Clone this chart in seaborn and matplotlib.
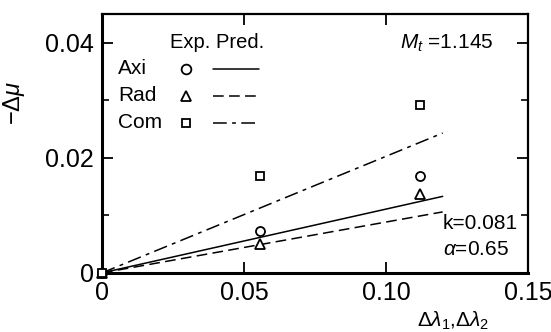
import numpy as np
import pandas as pd
import seaborn as sns
import matplotlib
matplotlib.use("Agg")
import matplotlib.pyplot as plt
from matplotlib.lines import Line2D
from matplotlib.ticker import MultipleLocator, FixedLocator

# Experimental points (Δλ, -Δμ)
exp_x = [0.0, 0.0555, 0.1119]
axi_exp = [0.0, 0.0073, 0.0169]
rad_exp = [0.0, 0.0050, 0.0137]
com_exp = [0.0, 0.0169, 0.0292]

# Predicted lines (start and end)
pred_x = [0.0, 0.12]
axi_pred = [0.0, 0.0133]
rad_pred = [0.0, 0.0106]
com_pred = [0.0, 0.0243]

series = ["Axi", "Rad", "Com"]
x_ticks = [0, 0.05, 0.10, 0.15]
x_tick_labels = ["0", "0.05", "0.10", "0.15"]
y_ticks = [0, 0.02, 0.04]
y_tick_labels = ["0", "0.02", "0.04"]

sns.set_theme(style="ticks")
plt.rcParams["font.family"] = ["Liberation Sans", "DejaVu Sans"]
plt.rcParams["mathtext.fontset"] = "custom"
plt.rcParams["mathtext.rm"] = "Liberation Sans"
plt.rcParams["mathtext.it"] = "Liberation Sans:italic"
plt.rcParams["mathtext.bf"] = "Liberation Sans:bold"

exp_df = pd.DataFrame({
    "x": exp_x * 3,
    "y": axi_exp + rad_exp + com_exp,
    "case": [s for s in series for _ in exp_x],
})
pred_df = pd.DataFrame({
    "x": pred_x * 3,
    "y": axi_pred + rad_pred + com_pred,
    "case": [s for s in series for _ in pred_x],
})

markers = {"Axi": "o", "Rad": "^", "Com": "s"}
marker_sizes = {"Axi": 6.5, "Rad": 7, "Com": 5.8}
dashes = {"Axi": (None, None), "Rad": (7, 3.5), "Com": (9, 3.5, 2.5, 3.5)}

fig = plt.figure(figsize=(5.51, 3.32), dpi=100)
ax = fig.add_axes([0.185, 0.178, 0.773, 0.780])

for s in series:
    sub = pred_df[pred_df["case"] == s]
    ls = "-" if s == "Axi" else (0, dashes[s])
    sns.lineplot(data=sub, x="x", y="y", ax=ax, color="black", lw=1.1,
                 linestyle=ls, legend=False)
for s in series:
    sub = exp_df[exp_df["case"] == s]
    ax.plot(sub["x"], sub["y"], linestyle="none", marker=markers[s],
            markersize=marker_sizes[s], markerfacecolor="white",
            markeredgecolor="black", markeredgewidth=1.3, zorder=5,
            clip_on=False)

ax.set_xlim(0, 0.15)
ax.set_ylim(0, 0.045)
ax.xaxis.set_major_locator(FixedLocator(x_ticks))
ax.set_xticklabels(x_tick_labels)
ax.yaxis.set_major_locator(FixedLocator(y_ticks))
ax.set_yticklabels(y_tick_labels)
ax.yaxis.set_minor_locator(MultipleLocator(0.01))
ax.tick_params(which="both", direction="in", top=True, right=True,
               labelsize=18, color="black", labelcolor="black")
ax.tick_params(which="major", length=8, width=1.3, pad=6)
ax.tick_params(which="minor", length=5, width=1.2)
for sp in ax.spines.values():
    sp.set_visible(True)
    sp.set_linewidth(1.6)
    sp.set_color("black")
ax.spines["left"].set_linewidth(2.2)
ax.spines["bottom"].set_linewidth(2.2)

ax.set_xlabel("")
ax.set_ylabel(r"$-\Delta\mu$", fontsize=17, color="black")
ax.yaxis.set_label_coords(-0.175, 0.655)

fig.text(0.822, 0.0, r"$\Delta\lambda_1{,}\Delta\lambda_2$", fontsize=15,
         ha="center", va="bottom", color="black")

# Legend table drawn as text and marker samples
def ax_pt(px, py):
    return ((px - 102) / 426.0, (273 - py) / 259.0)

ax.text(*ax_pt(170, 43), "Exp. Pred.", transform=ax.transAxes, fontsize=14.5,
        ha="left", va="center", color="black")
rows_y = [69, 96, 123]
for s, py in zip(series, rows_y):
    ax.text(*ax_pt(118, py), s, transform=ax.transAxes, fontsize=15,
            ha="left", va="center", color="black")
    mx, my = ax_pt(186, py)
    ax.add_line(Line2D([mx], [my], transform=ax.transAxes, linestyle="none",
                       marker=markers[s], markersize=marker_sizes[s] + 0.5,
                       markerfacecolor="white", markeredgecolor="black",
                       markeredgewidth=1.3))
    x0, _ = ax_pt(213, py)
    x1, _ = ax_pt(259, py)
    ls = "-" if s == "Axi" else (0, dashes[s])
    ax.add_line(Line2D([x0, x1], [my, my], transform=ax.transAxes,
                       color="black", lw=1.1, linestyle=ls))

ax.text(*ax_pt(400, 43), r"$M_t$ =1.145", transform=ax.transAxes, fontsize=15,
        ha="left", va="center", color="black")
ax.text(*ax_pt(443, 224), "k=0.081", transform=ax.transAxes, fontsize=15,
        ha="left", va="center", color="black")
ax.text(*ax_pt(443, 250), r"$\alpha$=0.65", transform=ax.transAxes, fontsize=15,
        ha="left", va="center", color="black")

fig.savefig("out.png", dpi=100, facecolor="white")
